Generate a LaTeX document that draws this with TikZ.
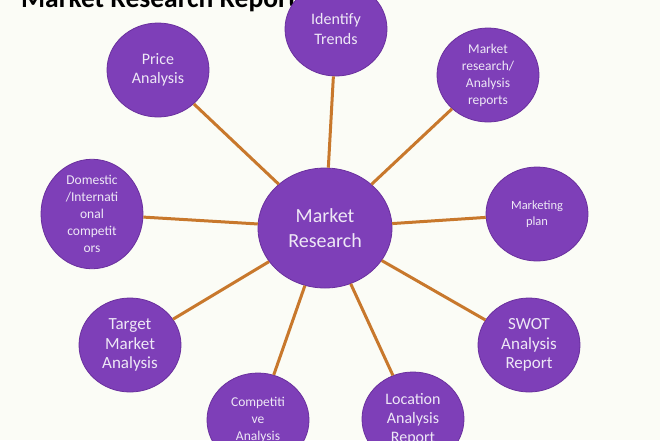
\documentclass[tikz,border=0pt]{standalone}
\usepackage{fontspec}
\setmainfont{Carlito}
\usetikzlibrary{shapes.geometric}
\definecolor{bgc}{HTML}{FBFCF6}
\definecolor{purp}{HTML}{7E3FB8}
\definecolor{purpline}{HTML}{6A309E}
\definecolor{txtc}{HTML}{EEE8F6}
\definecolor{linec}{HTML}{C8782C}
\tikzset{
  sat/.style={ellipse, fill=purp, draw=purpline, line width=0.8pt,
    minimum width=102pt, minimum height=94pt, inner sep=0pt,
    text=txtc, align=center, font=\fontsize{16}{19.5}\selectfont},
  hub/.style={ellipse, fill=purp, draw=purpline, line width=0.8pt,
    minimum width=134pt, minimum height=120pt, inner sep=0pt,
    text=txtc, align=center, font=\fontsize{20}{25}\selectfont},
  small/.style={font=\fontsize{13.5}{17}\selectfont},
  conn/.style={draw=linec, line width=3pt}
}
\begin{document}
\begin{tikzpicture}[x=1pt,y=-1pt]
\useasboundingbox (0,0) rectangle (660,440);
\fill[bgc] (0,0) rectangle (660,440);
\node[anchor=base west, font=\fontsize{27.5}{27.5}\selectfont\bfseries, inner sep=0pt] (title) at (21,7) {Market Research Report};
\node[hub] (c) at (325,228) {Market\\Research};
\node[sat] (it) at (336,29) {Identify\\Trends};
\node[sat] (pa) at (158,70) {Price\\Analysis};
\node[sat, small] (mr) at (488,75) {Market\\research/\\Analysis\\reports};
\node[sat, small] (di) at (92,214) {Domestic\\/Internati\\onal\\competit\\ors};
\node[sat, font=\fontsize{12.5}{16}\selectfont] (mp) at (537,214) {Marketing\\plan};
\node[sat, font=\fontsize{17}{19.5}\selectfont] (tm) at (130,345) {Target\\Market\\Analysis};
\node[sat, font=\fontsize{17}{19.5}\selectfont] (sw) at (529,345) {SWOT\\Analysis\\Report};
\node[sat, small] (ca) at (258,420) {Competiti\\ve\\Analysis};
\node[sat, font=\fontsize{16}{19}\selectfont] (la) at (413,419) {Location\\Analysis\\Report};
\foreach \n in {it,pa,mr,di,mp,tm,sw,ca,la}{
  \draw[conn] (c) -- (\n);
}
\end{tikzpicture}
\end{document}
